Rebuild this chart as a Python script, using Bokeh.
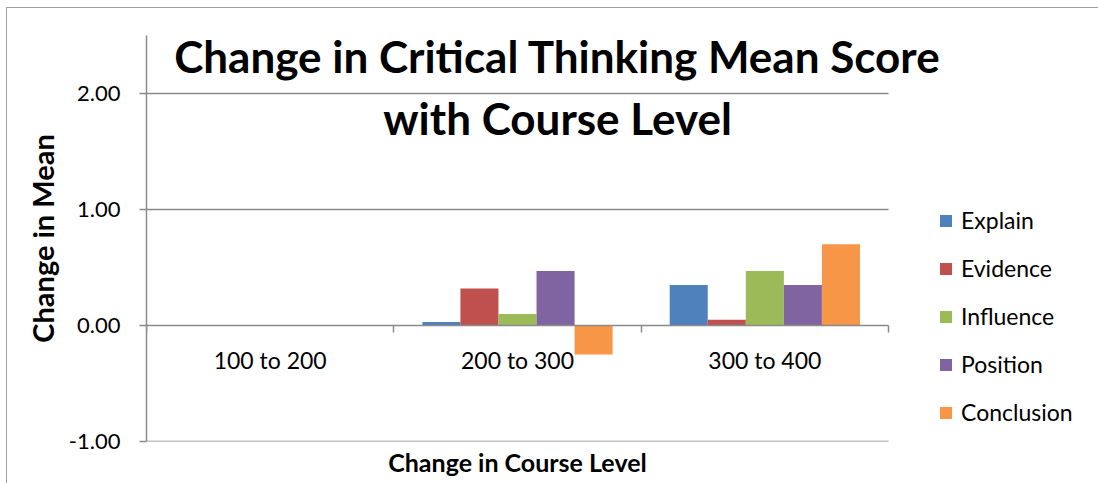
from bokeh.plotting import figure
from bokeh.models import (Range1d, LinearAxis, FixedTicker, Label, Legend,
                          LegendItem, NumeralTickFormatter)
from bokeh.embed import file_html
from bokeh.resources import INLINE

# ---- data ----
categories = ["100 to 200", "200 to 300", "300 to 400"]
series = ["Explain", "Evidence", "Influence", "Position", "Conclusion"]
explain = [0.0, 0.03, 0.35]
evidence = [0.0, 0.32, 0.05]
influence = [0.0, 0.10, 0.47]
position = [0.0, 0.47, 0.35]
conclusion = [0.0, -0.25, 0.70]
y_ticks = [-1.0, 0.0, 1.0, 2.0]
title_lines = ["Change in Critical Thinking Mean Score", "with Course Level"]
x_title = "Change in Course Level"
y_title = "Change in Mean"

colors = ["#4F81BD", "#C0504D", "#9BBB59", "#8064A2", "#F79646"]
AX = "#8a8a8a"
FONT = "Lato"

# ---- layout (pixels) ----
W, H = 1091, 475
LEFT, TOP, BOTTOM = 139, 27, 42
PLOT_W = 742                      # width of the category area
FRAME_W = W - LEFT

n_cat = len(categories)
x_end = n_cat * FRAME_W / PLOT_W  # frame extends right so title/legend can sit in it

p = figure(width=W, height=H, x_range=Range1d(0, x_end), y_range=Range1d(-1, 2.5),
           output_backend="svg", toolbar_location=None,
           min_border_left=LEFT, min_border_right=0, min_border_top=TOP,
           min_border_bottom=BOTTOM)
p.title.visible = False
p.outline_line_color = None
p.background_fill_color = "white"
p.border_fill_color = "white"
p.styles = {"margin-left": "7px", "margin-top": "8px", "outline": "1.5px solid #a0a0a0"}

p.xgrid.visible = False
p.ygrid.visible = False

# y axis
ya = p.yaxis[0]
ya.ticker = FixedTicker(ticks=y_ticks)
ya.formatter = NumeralTickFormatter(format="0.00")
ya.major_label_text_font = FONT
ya.major_label_text_font_size = "22px"
ya.major_label_text_color = "#000000"
ya.major_tick_out = 7
ya.major_tick_in = 0
ya.minor_tick_line_color = None
ya.axis_line_color = AX
ya.axis_line_width = 1.5
ya.major_tick_line_color = AX
ya.major_tick_line_width = 1.5
ya.major_label_standoff = 19
ya.axis_label = y_title
ya.axis_label_text_font = FONT
ya.axis_label_text_font_style = "bold"
ya.axis_label_text_font_size = "29px"
ya.axis_label_text_color = "#000000"
ya.axis_label_standoff = 6

# x axis title, centred under the category area
xa = p.xaxis[0]
xa.ticker = FixedTicker(ticks=[n_cat / 2])
xa.major_label_overrides = {n_cat / 2: x_title}
xa.axis_line_color = None
xa.major_tick_line_color = None
xa.minor_tick_line_color = None
xa.major_tick_out = 0
xa.major_tick_in = 0
xa.major_label_standoff = 5
xa.major_label_text_font = FONT
xa.major_label_text_font_style = "bold"
xa.major_label_text_font_size = "25px"
xa.major_label_text_color = "#000000"

# category axis at y=0: boundary ticks (minor ticks only)
cat_ticks = LinearAxis(fixed_location=0,
                       ticker=FixedTicker(ticks=[], minor_ticks=list(range(n_cat + 1))),
                       axis_line_color=None, major_tick_line_color=None,
                       minor_tick_line_color=AX, minor_tick_line_width=1.5,
                       minor_tick_out=7, minor_tick_in=0)
p.add_layout(cat_ticks, "below")
# category labels
cat_labels = LinearAxis(fixed_location=0,
                        ticker=FixedTicker(ticks=[i + 0.5 for i in range(n_cat)]),
                        major_label_overrides={i + 0.5: c for i, c in enumerate(categories)},
                        axis_line_color=None, major_tick_line_color=None,
                        minor_tick_line_color=None, major_tick_out=0, major_tick_in=0,
                        major_label_standoff=20, major_label_text_font=FONT,
                        major_label_text_font_size="23px", major_label_text_color="#000000")
p.add_layout(cat_labels, "below")

# bars
values = [explain, evidence, influence, position, conclusion]
n_s = len(series)
w = 1.0 / (n_s + 1.5)
items = []
for j, (name, vals) in enumerate(zip(series, values)):
    xs = [i + 0.5 + (j - (n_s - 1) / 2) * w for i in range(n_cat)]
    r = p.vbar(x=xs, top=vals, bottom=0, width=w, fill_color=colors[j], line_color=None)
    items.append(LegendItem(label=name, renderers=[r]))

# gridlines + category axis line over the category area only
p.segment(x0=[0] * len(y_ticks), x1=[n_cat] * len(y_ticks), y0=y_ticks, y1=y_ticks,
          line_color=AX, line_width=1.5)

legend = Legend(items=items, location=(PLOT_W + 50, 15), glyph_width=15, glyph_height=15,
                label_standoff=8, spacing=20, padding=0, margin=0,
                border_line_color=None, background_fill_alpha=0,
                label_text_font=FONT, label_text_font_size="23px", label_height=24,
                label_text_color="#000000")
p.add_layout(legend, "center")

# chart title (overlapping plot area)
for t, yy in zip(title_lines, [2.322, 1.788]):
    p.add_layout(Label(x=1.662, y=yy, text=t, text_align="center", text_baseline="alphabetic",
                       text_font=FONT, text_font_style="bold", text_font_size="44px",
                       text_color="#000000"))

open("out.html", "w").write(file_html(p, INLINE))
